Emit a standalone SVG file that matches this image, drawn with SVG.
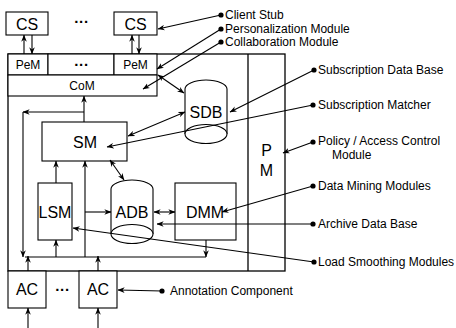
<svg xmlns="http://www.w3.org/2000/svg" width="456" height="328" viewBox="0 0 456 328">
<defs>
<marker id="ah" viewBox="0 0 10 8" refX="9.5" refY="4" markerWidth="7" markerHeight="6" markerUnits="userSpaceOnUse" orient="auto-start-reverse">
<path d="M0,0 L10,4 L0,8 L3,4 z" fill="#000"/>
</marker>
</defs>
<style>
.b{fill:#fff;stroke:#000;stroke-width:1.1}
.f{fill:none;stroke:#000;stroke-width:1.3}
.c{fill:none;stroke:#000;stroke-width:1.1}
.a{marker-end:url(#ah)}
.d{marker-start:url(#ah);marker-end:url(#ah)}
text{font-family:"Liberation Sans",Arial,sans-serif;fill:#000}
.L{font-size:16px;text-anchor:middle}
.s{font-size:12px;text-anchor:middle}
.t{font-size:12px}
.dots{font-size:15px;text-anchor:middle;font-weight:bold;letter-spacing:0.6px}
</style>
<g id="frame">
<rect class="f" x="8" y="54" width="277" height="217"/>
<line class="f" x1="248" y1="54" x2="248" y2="271"/>
</g>
<g id="cs1"><rect class="b" x="6" y="12" width="42" height="23"/><text class="L" x="27" y="29.5">CS</text></g>
<text class="dots" x="81.5" y="22.5">...</text>
<g id="cs2"><rect class="b" x="114" y="12" width="43" height="23"/><text class="L" x="135.5" y="29.5">CS</text></g>
<g id="pem1"><rect class="b" x="8" y="54" width="40" height="21"/><text class="s" x="28" y="69">PeM</text></g>
<g id="pemdots"><rect class="b" x="48" y="54" width="66" height="21"/><text class="dots" x="81.5" y="66">...</text></g>
<g id="pem2"><rect class="b" x="114" y="54" width="43" height="21"/><text class="s" x="135.5" y="69">PeM</text></g>
<g id="com"><rect class="b" x="8" y="75" width="149" height="21"/><text class="s" x="82" y="90">CoM</text></g>
<g id="sdb">
<path class="b" d="M185,89 A21,9 0 0 1 227,89 L227,134 L185,134 Z" style="stroke:none"/>
<path class="c" d="M185,134 L185,89 A21,9 0 0 1 227,89 L227,134"/>
<ellipse class="b" cx="206" cy="134" rx="21" ry="9.5"/>
<text class="L" x="206" y="117.5">SDB</text>
</g>
<g id="sm"><rect class="b" x="42" y="122" width="85" height="39"/><text class="L" x="85" y="147.5">SM</text></g>
<g id="lsm"><rect class="b" x="38" y="183" width="34" height="57"/><text class="L" x="55" y="217.5">LSM</text></g>
<g id="adb">
<path class="b" d="M111,189 A21,9 0 0 1 153,189 L153,234 L111,234 Z" style="stroke:none"/>
<path class="c" d="M111,234 L111,189 A21,9 0 0 1 153,189 L153,234"/>
<ellipse class="b" cx="132" cy="234" rx="21" ry="9.5"/>
<text class="L" x="132" y="217.5">ADB</text>
</g>
<g id="dmm"><rect class="b" x="175" y="183" width="61" height="57"/><text class="L" x="205" y="217.5">DMM</text></g>
<g id="pm"><text class="L" x="266.5" y="156">P</text><text class="L" x="266.5" y="176">M</text></g>
<g id="ac1"><rect class="b" x="8" y="271" width="38" height="37"/><text class="L" x="27" y="295">AC</text></g>
<text class="dots" x="62.5" y="291">...</text>
<g id="ac2"><rect class="b" x="79" y="271" width="38" height="37"/><text class="L" x="98" y="295">AC</text></g>
<g id="connectors">
<line class="c a" x1="24" y1="54" x2="24" y2="35"/>
<line class="c a" x1="32" y1="35" x2="32" y2="54"/>
<line class="c a" x1="132" y1="54" x2="132" y2="35"/>
<line class="c a" x1="139" y1="35" x2="139" y2="54"/>
<line class="c d" x1="158" y1="75" x2="184" y2="93"/>
<line class="c a" x1="84" y1="122" x2="84" y2="96"/>
<line class="c a" x1="84" y1="112" x2="23" y2="112"/>
<line class="c a" x1="23" y1="112" x2="23" y2="257"/>
<line class="c d" x1="128" y1="136" x2="185" y2="112"/>
<line class="c d" x1="110" y1="160" x2="124" y2="180"/>
<line class="c a" x1="56" y1="183" x2="56" y2="161"/>
<line class="c a" x1="56" y1="257" x2="56" y2="240"/>
<line class="c a" x1="85" y1="257" x2="85" y2="161"/>
<line class="c a" x1="85" y1="212" x2="111" y2="212"/>
<line class="c d" x1="154" y1="212" x2="175" y2="212"/>
<polyline class="c" points="25,257 206,257"/>
<line class="c a" x1="206" y1="240" x2="206" y2="257"/>
<line class="c a" x1="28" y1="271" x2="28" y2="256"/>
<line class="c a" x1="98" y1="271" x2="98" y2="256"/>
<line class="c a" x1="28" y1="328" x2="28" y2="308"/>
<line class="c a" x1="98" y1="328" x2="98" y2="308"/>
</g>
<g id="labels">
<line class="c a" x1="221" y1="15" x2="158" y2="29"/><circle cx="221" cy="15" r="2.6"/>
<text class="t" x="225" y="19.3">Client Stub</text>
<line class="c a" x1="221" y1="29" x2="157" y2="69"/><circle cx="221" cy="29" r="2.6"/>
<text class="t" x="225" y="33.3">Personalization Module</text>
<line class="c a" x1="221" y1="42" x2="143" y2="89"/><circle cx="221" cy="42" r="2.6"/>
<text class="t" x="225" y="46.3">Collaboration Module</text>
<line class="c a" x1="314" y1="70" x2="230" y2="112"/><circle cx="314" cy="70" r="2.6"/>
<text class="t" x="318" y="74.3">Subscription Data Base</text>
<line class="c a" x1="313" y1="105" x2="107" y2="147"/><circle cx="313" cy="105" r="2.6"/>
<text class="t" x="318" y="109.3">Subscription Matcher</text>
<line class="c a" x1="313" y1="142" x2="283" y2="153"/><circle cx="313" cy="142" r="2.6"/>
<text class="t" x="318" y="144.5">Policy / Access Control</text>
<text class="t" x="332" y="158.5">Module</text>
<line class="c a" x1="313" y1="186" x2="222" y2="212"/><circle cx="313" cy="186" r="2.6"/>
<text class="t" x="318" y="190.3">Data Mining Modules</text>
<line class="c a" x1="313" y1="224" x2="157" y2="224"/><circle cx="313" cy="224" r="2.6"/>
<text class="t" x="318" y="228.3">Archive Data Base</text>
<line class="c a" x1="314" y1="262" x2="73" y2="228"/><circle cx="314" cy="262" r="2.6"/>
<text class="t" x="318" y="266.3">Load Smoothing Modules</text>
<line class="c a" x1="162" y1="291" x2="118" y2="290"/><circle cx="162" cy="291" r="2.6"/>
<text class="t" x="170" y="295.3">Annotation Component</text>
</g>
</svg>
